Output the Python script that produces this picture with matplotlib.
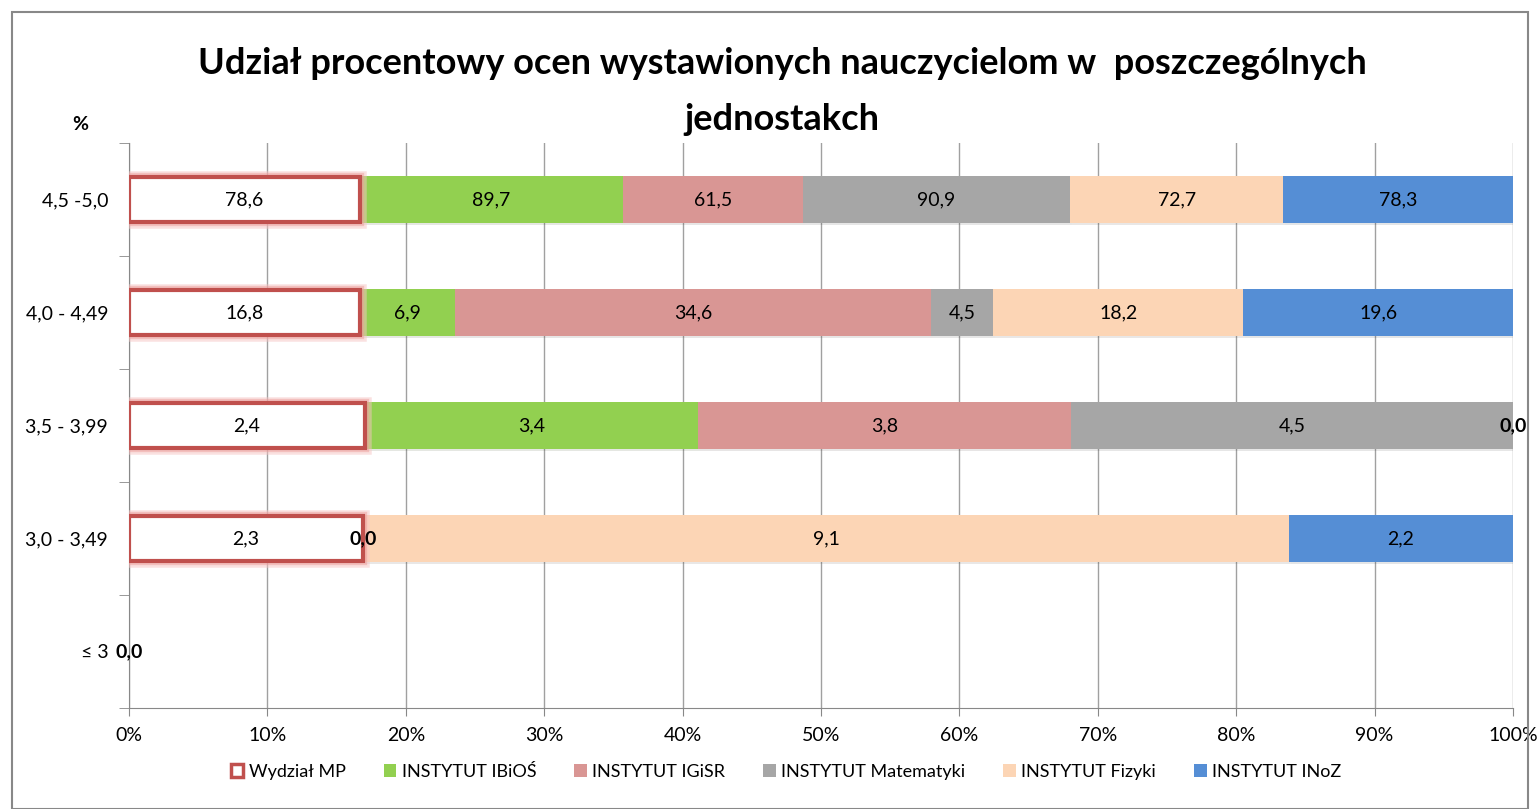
import numpy as np
import matplotlib.pyplot as plt
import matplotlib.patheffects as pe
from matplotlib.patches import Rectangle, Patch

plt.rcParams['font.family'] = ['Lato', 'DejaVu Sans']

# Przedziały ocen (od dołu do góry)
categories = ['≤ 3', '3,0 - 3,49', '3,5 - 3,99', '4,0 - 4,49', '4,5 -5,0']

# Wartości procentowe dla jednostek (nan = brak danych)
nan = np.nan
series = ['Wydział MP', 'INSTYTUT IBiOŚ', 'INSTYTUT IGiSR',
          'INSTYTUT Matematyki', 'INSTYTUT Fizyki', 'INSTYTUT INoZ']
wydzial_mp = [0.0, 2.3, 2.4, 16.8, 78.6]
ibios = [nan, 0.0, 3.4, 6.9, 89.7]
igisr = [nan, nan, 3.8, 34.6, 61.5]
matematyki = [nan, nan, 4.5, 4.5, 90.9]
fizyki = [nan, 9.1, 0.0, 18.2, 72.7]
inoz = [nan, 2.2, nan, 19.6, 78.3]

colors = ['white', '#92D050', '#D99694', '#A6A6A6', '#FCD5B5', '#558ED5']

data = np.array([wydzial_mp, ibios, igisr, matematyki, fizyki, inoz])
vals = np.nan_to_num(data)
totals = vals.sum(axis=0)
totals[totals == 0] = 1
shares = vals / totals * 100

fig = plt.figure(figsize=(15.4, 8.09), dpi=100)
ax = fig.add_axes([129 / 1540, 1 - 708 / 809, 1384 / 1540, 565 / 809])

y = np.arange(len(categories))
left = np.zeros(len(categories))
for i, name in enumerate(series):
    if i == 0:
        bars = ax.barh(y, shares[i], left=left, height=0.39, color='white',
                       edgecolor='#C0504D', linewidth=3, zorder=3)
        for b, w in zip(bars, shares[i]):
            if w == 0:
                b.set_visible(False)
                continue
            b.set_path_effects([pe.Stroke(linewidth=9, foreground='#F7C4C3', alpha=0.5),
                                pe.Stroke(linewidth=6, foreground='#EE9E9C', alpha=0.5),
                                pe.Normal()])
    else:
        bars = ax.barh(y, shares[i], left=left, height=0.41, color=colors[i],
                       linewidth=0, zorder=2)
        for b in bars:
            b.set_path_effects([pe.SimplePatchShadow(offset=(1.5, -2), alpha=0.12),
                                pe.Normal()])
    for j in range(len(categories)):
        v = data[i, j]
        if np.isnan(v):
            continue
        w = shares[i, j]
        txt = f'{v:.1f}'.replace('.', ',')
        if w == 0:
            ax.text(left[j] + w, y[j], txt, ha='center', va='center',
                    fontsize=14, fontweight='bold', zorder=5)
        else:
            ax.text(left[j] + w / 2, y[j], txt, ha='center', va='center',
                    fontsize=14, zorder=5)
    left += shares[i]

ax.set_xlim(0, 100)
ax.set_ylim(-0.5, len(categories) - 0.5)
ax.set_xticks(np.arange(0, 101, 10))
ax.set_xticklabels([f'{t}%' for t in range(0, 101, 10)], fontsize=14)
ax.set_yticks(y)
ax.set_yticklabels(categories, fontsize=14)
ax.set_yticks(np.arange(-0.5, len(categories)), minor=True)
ax.tick_params(axis='y', which='major', length=0, pad=15)
ax.tick_params(axis='y', which='minor', length=7, color='#888888')
ax.tick_params(axis='x', length=6, color='#888888', pad=8)
ax.grid(axis='x', color='#A0A0A0', linewidth=1, zorder=0)
ax.set_axisbelow(True)
for s in ['top', 'right']:
    ax.spines[s].set_visible(False)
ax.spines['left'].set_color('#888888')
ax.spines['bottom'].set_color('#888888')

fig.text(782 / 1540, 1 - 63 / 809,
         'Udział procentowy ocen wystawionych nauczycielom w  poszczególnych',
         ha='center', va='center', fontsize=26, fontweight='bold')
fig.text(782 / 1540, 1 - 120 / 809, 'jednostakch',
         ha='center', va='center', fontsize=26, fontweight='bold')
fig.text(80 / 1540, 1 - 125 / 809, '%', ha='center', va='center',
         fontsize=14, fontweight='bold')

handles = [Patch(facecolor='white', edgecolor='#C0504D', linewidth=2.5)]
handles += [Patch(facecolor=c) for c in colors[1:]]
fig.legend(handles, series, loc='center', bbox_to_anchor=(786 / 1540, 1 - 772 / 809),
           ncol=6, frameon=False, fontsize=13, handlelength=0.7, handleheight=0.7,
           handletextpad=0.3, columnspacing=2.1)

fig.patches.append(Rectangle((12 / 1540, 0), 1 - 24 / 1540, 1 - 12 / 809,
                             transform=fig.transFigure, fill=False,
                             edgecolor='#888888', linewidth=1.5))

fig.savefig('out.png', dpi=100)
